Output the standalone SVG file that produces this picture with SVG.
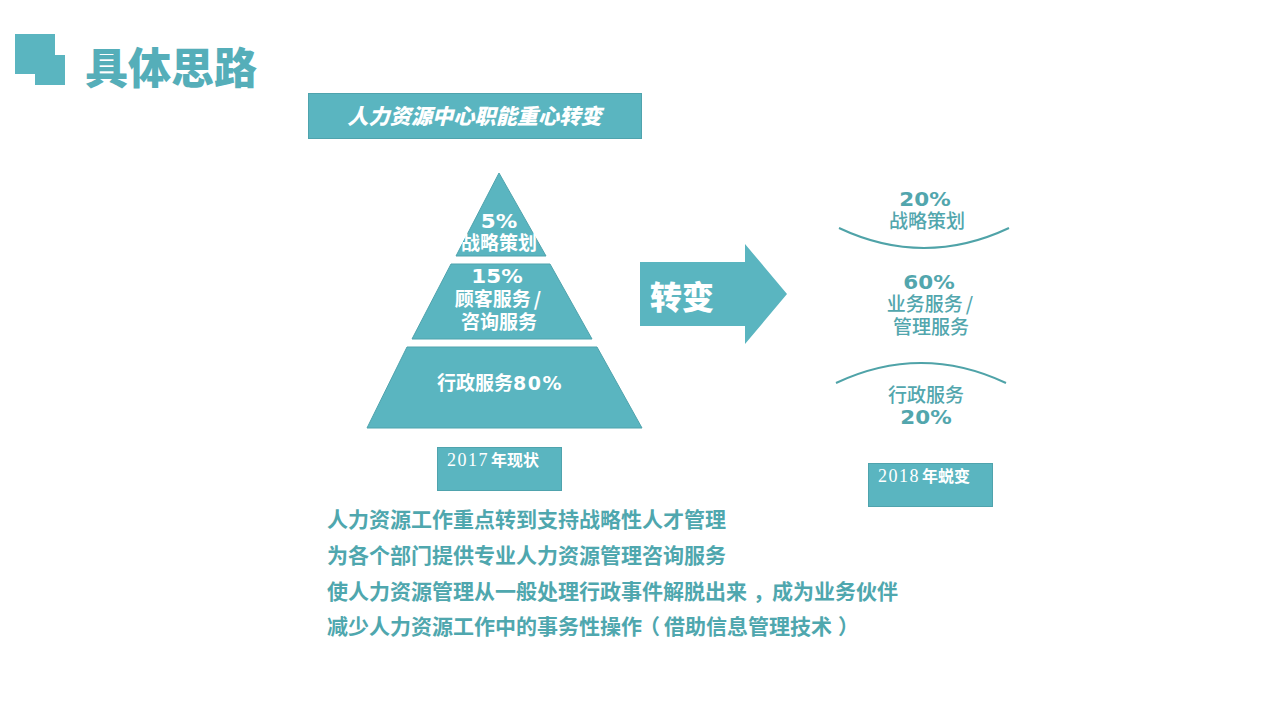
<svg xmlns="http://www.w3.org/2000/svg" width="1280" height="720" viewBox="0 0 1280 720">
<style>
.f{fill:#5ab5c0}
.s{stroke:#4fa3ad;stroke-width:1}
text{font-family:"Noto Sans CJK SC","Liberation Sans",sans-serif}
.w{fill:#fff;font-weight:700;text-anchor:middle;font-size:19px}
.t{fill:#52a6ad;font-weight:500;text-anchor:middle;font-size:19px}
.n{font-family:"DejaVu Sans","Noto Sans CJK SC",sans-serif;font-weight:700;font-size:19px}
.m{letter-spacing:1.500px}
.b{fill:#4fa7ae;font-weight:700;font-size:21px}
.y{fill:#fff;font-size:16px;font-family:"Liberation Serif","Noto Sans CJK SC",serif}
.d{font-size:18px;letter-spacing:1.500px}
.c{fill:none;stroke:#4fa3a8;stroke-width:2}
</style>
<rect width="1280" height="720" fill="#fff"/>
<g id="logo"><path class="f" d="M15 34H55V55H65V85H35V74H15Z"/></g>
<g id="title"><text x="85" y="84" fill="#55aeb9" font-size="43" font-weight="900">具体思路</text></g>
<g id="banner"><rect class="f s" x="308.500" y="93.500" width="333" height="45"/>
<text x="474.500" y="124" fill="#fff" font-size="21.200" font-weight="900" font-style="italic" text-anchor="middle">人力资源中心职能重心转变</text></g>
<g id="pyramid-top"><path class="f s" d="M499 173L546 256H456Z"/>
<text class="w n" transform="translate(499 228) scale(1.130 1)">5%</text><text class="w" x="499" y="250">战略策划</text></g>
<g id="pyramid-middle"><path class="f s" d="M451 264H550L592 339H412Z"/>
<text class="w n" transform="translate(497 283) scale(1.130 1)">15%</text><text class="w" x="498" y="306">顾客服务<tspan dx="3">/</tspan></text><text class="w" x="499" y="329">咨询服务</text></g>
<g id="pyramid-base"><path class="f s" d="M407 347H597L642 428H367Z"/>
<text class="w" x="500" y="390">行政服务<tspan class="n m">80%</tspan></text></g>
<g id="label-2017"><rect class="f s" x="437.500" y="447.500" width="124" height="43"/>
<text class="y" x="447" y="466"><tspan class="d">2017</tspan><tspan font-weight="700" dx="2">年现状</tspan></text></g>
<g id="shift-arrow"><path class="f" d="M640 262H745V244L787 294L745 344V326H640Z"/>
<text x="682" y="309" fill="#fff" font-size="32" font-weight="900" text-anchor="middle">转变</text></g>
<g id="connectors"><path class="c" d="M839 228Q924 268 1009 228"/><path class="c" d="M836 383Q921 343 1006 383"/></g>
<g id="right-top"><text class="t n" transform="translate(925 206) scale(1.130 1)">20%</text><text class="t" x="927" y="228">战略策划</text></g>
<g id="right-middle"><text class="t n" transform="translate(929 289) scale(1.130 1)">60%</text><text class="t" x="930" y="311">业务服务<tspan dx="3">/</tspan></text><text class="t" x="931" y="334">管理服务</text></g>
<g id="right-bottom"><text class="t" x="926" y="402">行政服务</text><text class="t n" transform="translate(926 424) scale(1.130 1)">20%</text></g>
<g id="label-2018"><rect class="f s" x="868.500" y="463.500" width="124" height="43"/>
<text class="y" x="878" y="482"><tspan class="d">2018</tspan><tspan font-weight="700" dx="2">年蜕变</tspan></text></g>
<g id="summary">
<text class="b" x="327" y="527">人力资源工作重点转到支持战略性人才管理</text>
<text class="b" x="327" y="563">为各个部门提供专业人力资源管理咨询服务</text>
<text class="b" x="327" y="599">使人力资源管理从一般处理行政事件解脱出来<tspan dx="6">，</tspan><tspan dx="-2">成为业务伙伴</tspan></text>
<text class="b" x="327" y="634">减少人力资源工作中的事务性操作<tspan dx="-3">（</tspan><tspan dx="4">借助信息管理技术</tspan><tspan dx="6">）</tspan></text>
</g>
</svg>
